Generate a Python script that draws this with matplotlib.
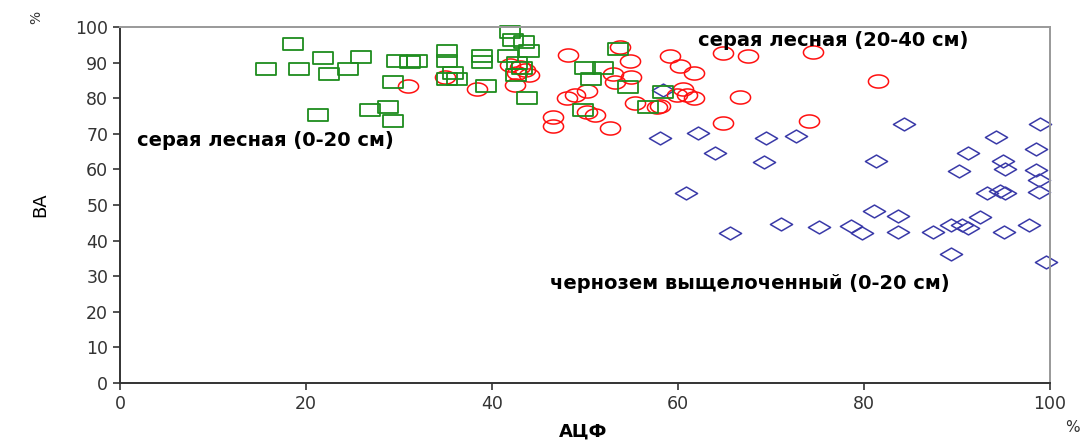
import numpy as np
import matplotlib.pyplot as plt
from matplotlib.path import Path

# серая лесная (0-20 см)
green_x = [15.7, 18.6, 19.3, 21.3, 21.8, 22.5, 24.5, 25.9, 26.9, 28.8, 29.4, 29.4,
           29.8, 31.2, 31.9, 35.2, 35.2, 35.8, 35.2, 36.2, 38.9, 38.9, 39.4, 41.9,
           42.3, 43.4, 44.0, 41.7, 42.7, 43.2, 42.6, 43.8, 50.0, 51.9, 50.6, 49.8,
           53.5, 54.6, 56.8, 58.4]
green_y = [88.2, 95.2, 88.2, 75.3, 91.3, 86.8, 88.2, 91.6, 76.7, 77.5, 73.6, 84.6,
           90.4, 90.2, 90.4, 93.3, 90.4, 87.1, 85.4, 85.4, 91.9, 90.2, 83.4, 98.6,
           96.3, 95.8, 93.3, 91.9, 89.9, 88.5, 86.5, 80.1, 88.5, 88.5, 85.4, 76.7,
           93.8, 83.1, 77.5, 81.7]

# серая лесная (20-40 см)
red_x = [31.0, 35.0, 38.4, 41.9, 43.0, 43.5, 42.7, 42.5, 44.0, 46.6, 46.6, 48.2,
         48.1, 48.9, 50.2, 50.2, 51.1, 52.7, 53.0, 53.2, 53.8, 54.8, 55.0, 55.4,
         57.7, 58.1, 59.1, 60.2, 59.9, 60.5, 61.0, 61.7, 61.7, 64.8, 64.8, 66.7,
         67.5, 74.1, 74.5, 81.5]
red_y = [83.4, 86.0, 82.6, 89.3, 88.8, 87.9, 87.1, 83.7, 86.5, 74.7, 72.2, 92.1,
         80.1, 80.9, 82.0, 76.1, 75.3, 71.6, 86.8, 84.6, 94.4, 90.4, 86.0, 78.7,
         77.5, 77.8, 91.9, 89.0, 80.9, 82.6, 80.9, 87.1, 80.1, 92.7, 73.0, 80.3,
         91.9, 73.6, 93.0, 84.8]

# чернозем выщелоченный (0-20 см)
blue_x = [58.4, 58.1, 60.9, 62.2, 64.0, 65.6, 69.2, 69.5, 71.1, 72.7, 75.2, 78.6,
          79.8, 81.1, 81.3, 83.7, 83.7, 84.3, 87.4, 89.4, 89.4, 90.2, 90.5, 91.2,
          91.2, 92.5, 93.2, 94.2, 94.6, 94.9, 95.2, 95.2, 95.1, 97.7, 98.5, 98.5,
          98.8, 98.8, 98.9, 99.6]
blue_y = [82.3, 68.8, 53.4, 70.2, 64.6, 42.1, 62.1, 68.8, 44.7, 69.4, 43.8, 44.1,
          42.1, 48.3, 62.4, 46.9, 42.4, 72.8, 42.4, 44.4, 36.2, 59.6, 44.4, 43.5,
          64.6, 46.6, 53.4, 69.1, 53.9, 62.4, 60.1, 53.4, 42.4, 44.4, 65.7, 59.8,
          57.0, 53.7, 72.8, 34.0]

x_ticks = [0, 20, 40, 60, 80, 100]
y_ticks = list(range(0, 101, 10))

# flattened marker shapes
rect = Path([(-1, -0.6), (1, -0.6), (1, 0.6), (-1, 0.6), (-1, -0.6)],
            [Path.MOVETO, Path.LINETO, Path.LINETO, Path.LINETO, Path.CLOSEPOLY])
t = np.linspace(0, 2 * np.pi, 60)
ellipse = Path(np.column_stack([np.cos(t), 0.65 * np.sin(t)]), closed=True)
diamond = Path([(-1, 0), (0, -0.58), (1, 0), (0, 0.58), (-1, 0)],
               [Path.MOVETO, Path.LINETO, Path.LINETO, Path.LINETO, Path.CLOSEPOLY])

plt.rcParams['font.family'] = ['DejaVu Sans']

fig = plt.figure(figsize=(10.83, 4.41), dpi=100)
ax = fig.add_axes([0.1108, 0.1315, 0.9695 - 0.1108, 0.9388 - 0.1315])

ax.plot(blue_x, blue_y, linestyle='none', marker=diamond, markersize=16,
        markerfacecolor='none', markeredgecolor='#3a3aa8', markeredgewidth=1.1,
        clip_on=False)
ax.plot(red_x, red_y, linestyle='none', marker=ellipse, markersize=14.5,
        markerfacecolor='none', markeredgecolor='#ff1010', markeredgewidth=1.1,
        clip_on=False)
ax.plot(green_x, green_y, linestyle='none', marker=rect, markersize=14.5,
        markerfacecolor='none', markeredgecolor='#1e8c1e', markeredgewidth=1.3,
        clip_on=False)

ax.set_xlim(0, 100)
ax.set_ylim(0, 100)
ax.set_xticks(x_ticks)
ax.set_yticks(y_ticks)
ax.tick_params(direction='out', length=5, width=1.2, colors='#333333',
               labelcolor='#333333', labelsize=12.5)
for side in ('left', 'bottom'):
    ax.spines[side].set_color('#333333')
    ax.spines[side].set_linewidth(1.4)
for side in ('top', 'right'):
    ax.spines[side].set_color('#999999')
    ax.spines[side].set_linewidth(1.4)

label_kw = dict(fontsize=14, fontweight='bold', va='center', ha='left')
ax.text(62.2, 96.3, 'серая лесная (20-40 см)', **label_kw)
ax.text(1.8, 68.0, 'серая лесная (0-20 см)', **label_kw)
ax.text(46.2, 28.0, 'чернозем выщелоченный (0-20 см)', **label_kw)

fig.text(40 / 1083, 1 - 205 / 441, 'ВА', rotation=90, fontsize=13,
         ha='center', va='center')
fig.text(583 / 1083, 1 - 432 / 441, 'АЦФ', fontsize=13, fontweight='bold',
         ha='center', va='center')
fig.text(36 / 1083, 1 - 17 / 441, '%', rotation=90, fontsize=10,
         color='#333333', ha='center', va='center')
fig.text(1072 / 1083, 1 - 427 / 441, '%', fontsize=11, color='#333333',
         ha='center', va='center')

fig.savefig('out.png', dpi=100)
